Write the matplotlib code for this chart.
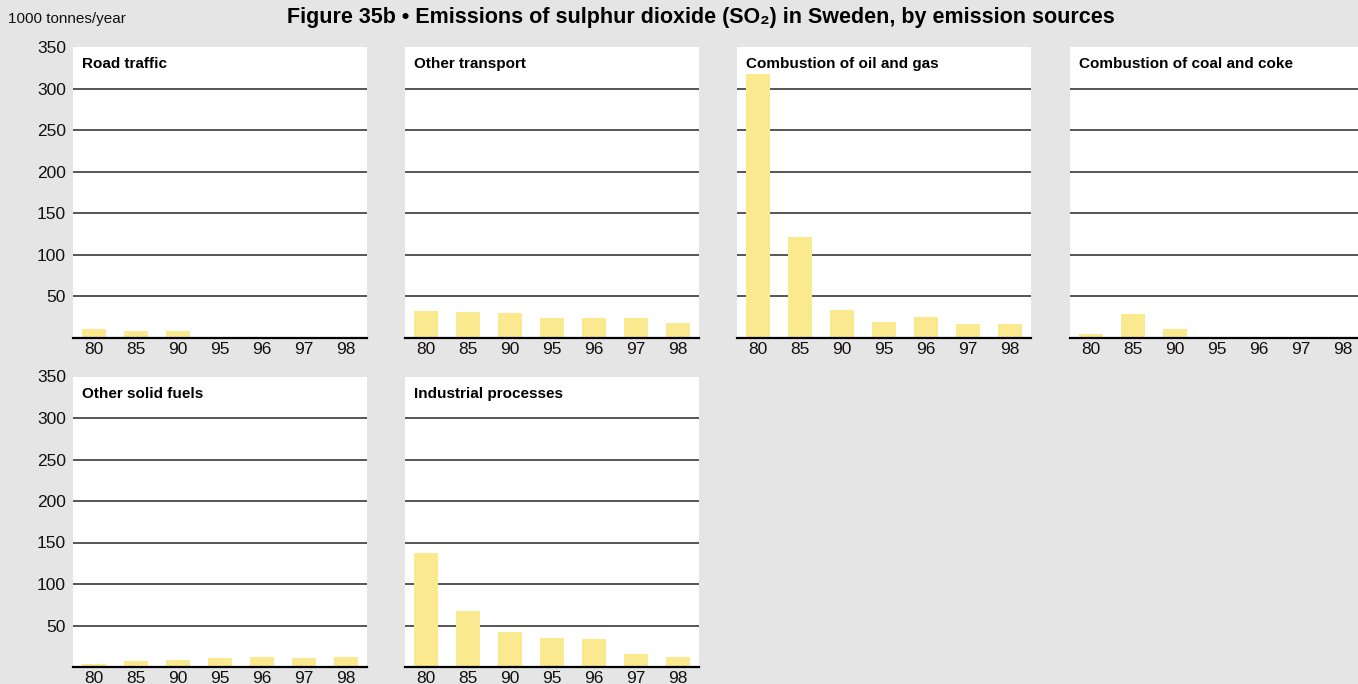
import numpy as np
import matplotlib.pyplot as plt

years = ["80", "85", "90", "95", "96", "97", "98"]

road_traffic = [11, 8, 8, 1.5, 0, 0, 0]
other_transport = [32, 31, 30, 24, 24, 24, 18]
oil_gas = [318, 121, 34, 19, 25, 17, 17]
coal_coke = [5, 29, 11, 1.2, 1.2, 1.2, 1.2]
other_solid = [4, 7.5, 9, 11, 12.5, 11, 12.5]
industrial = [137, 68, 42.5, 35, 34, 16, 12.5]

panels = [
    ("Road traffic", road_traffic),
    ("Other transport", other_transport),
    ("Combustion of oil and gas", oil_gas),
    ("Combustion of coal and coke", coal_coke),
    ("Other solid fuels", other_solid),
    ("Industrial processes", industrial),
]

bg = "#e5e5e5"
bar_col = "#fbe98f"
yticks = [50, 100, 150, 200, 250, 300, 350]

plt.rcParams["font.family"] = ["Liberation Sans", "DejaVu Sans"]

fig = plt.figure(figsize=(13.58, 6.84), dpi=100, facecolor=bg)

W, H = 1358, 684
lefts = [73, 405, 737, 1070]
pw = 294
rows = [(47, 338), (376.5, 667)]  # top, bottom in pixels

x = np.arange(len(years))
for i, (name, vals) in enumerate(panels):
    r, c = divmod(i, 4)
    top, bot = rows[r]
    ax = fig.add_axes([lefts[c] / W, 1 - bot / H, pw / W, (bot - top) / H])
    ax.set_facecolor("white")
    ax.bar(x, vals, width=0.57, color=bar_col, zorder=3)
    ax.set_xlim(-0.5, 6.5)
    ax.set_ylim(0, 350)
    for y in yticks[:-1]:
        ax.axhline(y, color="#3a3a3a", lw=1.2, zorder=2)
    ax.axhline(0, color="black", lw=1.6, zorder=4, clip_on=False)
    for s in ax.spines.values():
        s.set_visible(False)
    ax.set_xticks(x)
    ax.set_xticklabels(years, fontsize=12.5, color="#111111")
    ax.tick_params(axis="x", length=0, pad=3)
    ax.set_yticks(yticks)
    if c == 0:
        ax.set_yticklabels([str(v) for v in yticks], fontsize=12.5, color="#111111")
        ax.tick_params(axis="y", length=0, pad=5)
    else:
        ax.tick_params(axis="y", length=0, labelleft=False)
    ax.text(0.03, 0.965, name, transform=ax.transAxes, fontsize=11,
            fontweight="bold", va="top", ha="left", color="black")

fig.text(8 / W, 1 - 19 / H, "1000 tonnes/year", fontsize=11, va="center",
         ha="left", color="#111111")
fig.text(701 / W, 1 - 17 / H,
         "Figure 35b \u2022 Emissions of sulphur dioxide (SO\u2082) in Sweden, by emission sources",
         fontsize=15.5, fontweight="bold", va="center", ha="center")

fig.savefig("out.png", dpi=100, facecolor=bg)
